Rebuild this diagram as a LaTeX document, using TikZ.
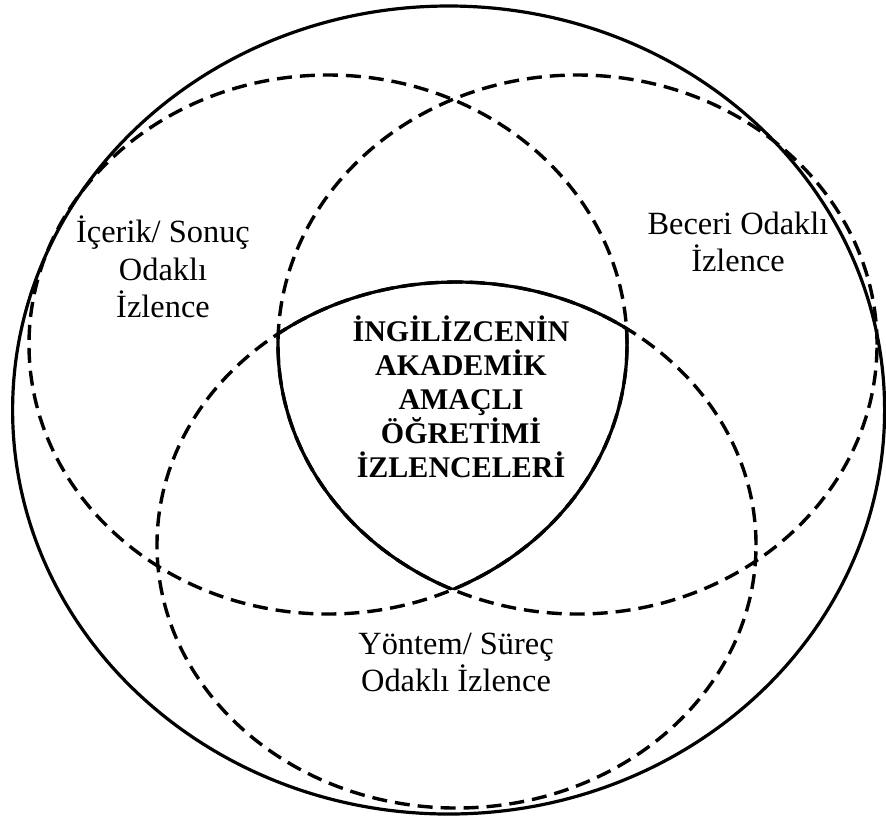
\documentclass[tikz,border=0pt]{standalone}
\usepackage{fontspec}
\setmainfont{Liberation Serif}
\begin{document}
\begin{tikzpicture}[x=0.5pt,y=0.5pt,
  dashedring/.style={line width=1.7pt, dash pattern=on 7.5pt off 4pt},
  solidring/.style={line width=1.6pt},
  setlabel/.style={align=center, font=\fontsize{16.2}{18.75}\selectfont, inner sep=0pt},
  maintitle/.style={align=center, font=\fontsize{15}{17}\selectfont\bfseries, inner sep=0pt}]
\useasboundingbox (0,0) rectangle (886,-821);
\coordinate (cL) at (328,-344.5);
\coordinate (cR) at (577.5,-344.5);
\coordinate (cB) at (456.5,-545);
\coordinate (cO) at (448.6,-410);
% dashed sets
\draw[dashedring] (cL) ellipse [x radius=299, y radius=269.5];
\draw[dashedring] (cR) ellipse [x radius=299.5, y radius=269.5];
\draw[dashedring] (cB) ellipse [x radius=299.5, y radius=263];
% solid intersection region
\begin{scope}
  \clip (cL) ellipse [x radius=299, y radius=269.5];
  \clip (cR) ellipse [x radius=299.5, y radius=269.5];
  \draw[solidring] (cB) ellipse [x radius=299.5, y radius=263];
\end{scope}
\begin{scope}
  \clip (cL) ellipse [x radius=299, y radius=269.5];
  \clip (cB) ellipse [x radius=299.5, y radius=263];
  \draw[solidring] (cR) ellipse [x radius=299.5, y radius=269.5];
\end{scope}
\begin{scope}
  \clip (cR) ellipse [x radius=299.5, y radius=269.5];
  \clip (cB) ellipse [x radius=299.5, y radius=263];
  \draw[solidring] (cL) ellipse [x radius=299, y radius=269.5];
\end{scope}
% outer
\draw[solidring] (cO) ellipse [x radius=436, y radius=404];
% labels
\node[setlabel] (content) at (163,-267) {İçerik/ Sonuç\\Odaklı\\İzlence};
\node[setlabel] (skill) at (738,-242) {Beceri Odaklı\\İzlence};
\node[setlabel] (method) at (456,-662.5) {Yöntem/ Süreç\\Odaklı İzlence};
\node[maintitle] (core) at (461,-397) {İNGİLİZCENİN\\AKADEMİK\\AMAÇLI\\ÖĞRETİMİ\\İZLENCELERİ};
\end{tikzpicture}
\end{document}
